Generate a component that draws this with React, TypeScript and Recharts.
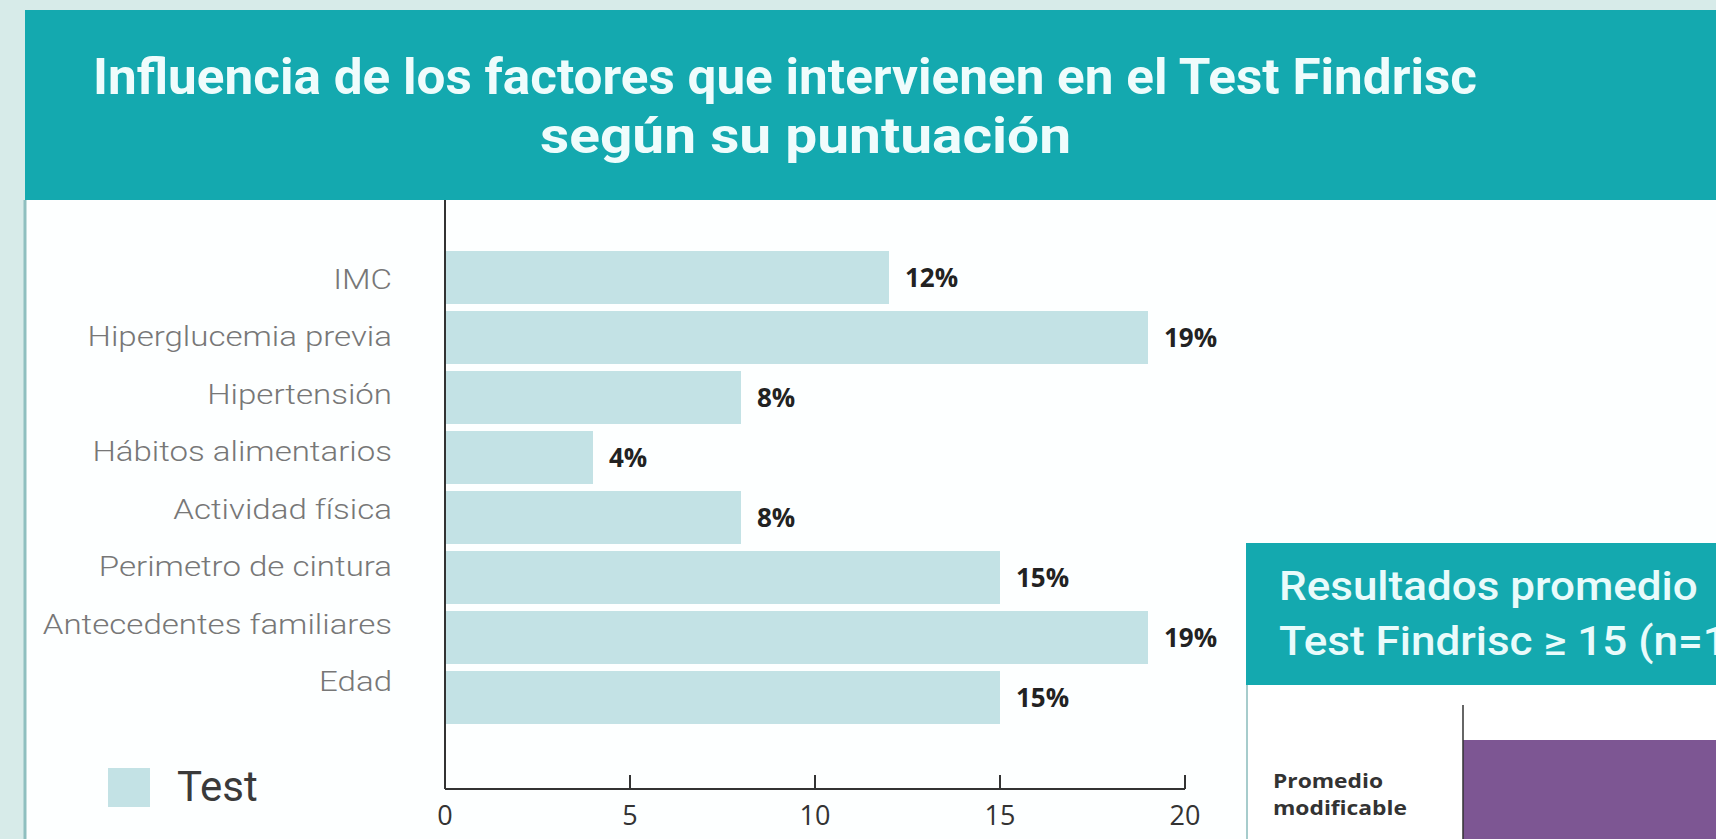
import { BarChart, Bar, XAxis, YAxis, Legend, LabelList } from 'recharts'

const CATEGORIES = [
  'IMC',
  'Hiperglucemia previa',
  'Hipertensión',
  'Hábitos alimentarios',
  'Actividad física',
  'Perimetro de cintura',
  'Antecedentes familiares',
  'Edad',
]
const TEST_VALUES = [12, 19, 8, 4, 8, 15, 19, 15]
const X_TICKS = [0, 5, 10, 15, 20]
const SERIES_NAME = 'Test'

// right-hand panel is cut off by the page edge, only its first bar shows
const SUMMARY_CATEGORIES = ['Promedio modificable']
const SUMMARY_VALUES = [8]

const TEAL = '#14a9af'
const BAR_COLOR = '#c3e2e5'
const PURPLE = '#7d5693'
const PAGE_BG = '#d7ebe9'

const factorData = CATEGORIES.map((name, i) => ({ name, test: TEST_VALUES[i] }))
const summaryData = SUMMARY_CATEGORIES.map((name, i) => ({ name, value: SUMMARY_VALUES[i] }))

function CategoryTick({ x, y, payload, index }: any) {
  // labels in the source drift slightly upward relative to the bars
  const shift = 2 - index * 2.5
  return (
    <text
      transform={`translate(${x},${y + shift}) scale(1.18,1)`}
      textAnchor="end"
      dominantBaseline="central"
      fontFamily="Roboto"
      fontWeight={300}
      fontSize={28}
      fill="#777"
    >
      {payload.value}
    </text>
  )
}

function ValueTick({ x, y, payload }: any) {
  return (
    <g>
      <line x1={x} x2={x} y1={y} y2={y - 14} stroke="#333" strokeWidth={2} />
      <text
        x={x}
        y={y + 25}
        textAnchor="middle"
        dominantBaseline="central"
        fontFamily="Open Sans"
        fontSize={27}
        fill="#333"
      >
        {payload.value}
      </text>
    </g>
  )
}

function SummaryTick({ x, y, payload }: any) {
  const words = String(payload.value).split(' ')
  return (
    <text
      transform={`translate(${x},${y}) scale(1.2,1)`}
      textAnchor="start"
      fontFamily="Open Sans"
      fontWeight={700}
      fontSize={19}
      fill="#333"
    >
      <tspan x={0} dy={-7}>{words[0]}</tspan>
      <tspan x={0} dy={27}>{words.slice(1).join(' ')}</tspan>
    </text>
  )
}

function renderLegend() {
  return (
    <div style={{ display: 'flex', alignItems: 'center' }}>
      <span style={{ display: 'inline-block', width: 42, height: 39, background: BAR_COLOR }} />
      <span
        style={{
          marginLeft: 27,
          fontFamily: 'Roboto',
          fontSize: 42,
          lineHeight: '42px',
          color: '#3a3a3a',
        }}
      >
        {SERIES_NAME}
      </span>
    </div>
  )
}

function Backdrop() {
  return (
    <svg width={1716} height={839} style={{ position: 'absolute', left: 0, top: 0 }}>
      <rect x={0} y={0} width={1716} height={839} fill={PAGE_BG} />
      <rect x={25} y={200} width={1691} height={639} fill="#fdffff" />
      <line x1={25} x2={25} y1={200} y2={839} stroke="#8fbfbf" strokeWidth={3} />
      <rect x={25} y={10} width={1691} height={190} fill={TEAL} />
      <text
        x={93}
        y={94}
        fontFamily="Roboto"
        fontWeight={700}
        fontSize={50}
        fill="#effcfc"
        textLength={1384}
        lengthAdjust="spacingAndGlyphs"
      >
        Influencia de los factores que intervienen en el  Test Findrisc
      </text>
      <text
        x={540}
        y={153}
        fontFamily="Roboto"
        fontWeight={700}
        fontSize={50}
        fill="#effcfc"
        textLength={531}
        lengthAdjust="spacingAndGlyphs"
      >
        según su puntuación
      </text>

      <rect x={1246} y={543} width={470} height={142} fill={TEAL} />
      <rect x={1246} y={685} width={470} height={154} fill="#ffffff" />
      <line x1={1247} x2={1247} y1={685} y2={839} stroke="#a6cccc" strokeWidth={2} />
      <text
        transform="translate(1279,600) scale(1.1,1)"
        fontFamily="Roboto"
        fontWeight={500}
        fontSize={40}
        fill="#e9fbfb"
      >
        Resultados promedio
      </text>
      <text
        transform="translate(1279,655) scale(1.1,1)"
        fontFamily="Roboto"
        fontWeight={500}
        fontSize={40}
        fill="#e9fbfb"
      >
        Test Findrisc ≥ 15 (n=1
      </text>
    </svg>
  )
}

export default function App() {
  return (
    <div
      style={{
        position: 'fixed',
        left: 0,
        top: 0,
        width: 1716,
        height: 839,
        overflow: 'hidden',
        background: PAGE_BG,
      }}
    >
      <Backdrop />

      <div style={{ position: 'absolute', left: 0, top: 0 }}>
        <BarChart
          width={1240}
          height={839}
          data={factorData}
          layout="vertical"
          margin={{ top: 200, right: 55, bottom: 0, left: 0 }}
        >
          <XAxis
            type="number"
            domain={[0, 20]}
            ticks={X_TICKS}
            height={50}
            axisLine={{ stroke: '#333', strokeWidth: 2 }}
            tickLine={false}
            tickSize={0}
            tickMargin={0}
            tick={<ValueTick />}
          />
          <YAxis
            type="category"
            dataKey="name"
            width={445}
            interval={0}
            padding={{ top: 47, bottom: 62 }}
            axisLine={{ stroke: '#333', strokeWidth: 2 }}
            tickLine={false}
            tickSize={0}
            tickMargin={53}
            tick={<CategoryTick />}
          />
          <Legend
            layout="horizontal"
            verticalAlign="middle"
            align="center"
            content={renderLegend}
            wrapperStyle={{ left: 108, top: 766, width: 'auto' }}
          />
          <Bar dataKey="test" name={SERIES_NAME} fill={BAR_COLOR} barSize={53} isAnimationActive={false}>
            <LabelList
              dataKey="test"
              position="right"
              offset={16}
              formatter={(v: any) => `${v}%`}
              fill="#222"
              fontFamily="Open Sans"
              fontWeight={700}
              fontSize={26}
            />
          </Bar>
        </BarChart>
      </div>

      <div style={{ position: 'absolute', left: 1248, top: 685 }}>
        <BarChart
          width={700}
          height={200}
          data={summaryData}
          layout="vertical"
          margin={{ top: 20, right: 0, bottom: 0, left: 0 }}
        >
          <XAxis type="number" domain={[0, 10]} hide />
          <YAxis
            type="category"
            dataKey="name"
            width={215}
            axisLine={{ stroke: '#333', strokeWidth: 1.5 }}
            tickLine={false}
            tickSize={0}
            tickMargin={190}
            tick={<SummaryTick />}
          />
          <Bar dataKey="value" fill={PURPLE} barSize={110} isAnimationActive={false} />
        </BarChart>
      </div>
    </div>
  )
}
